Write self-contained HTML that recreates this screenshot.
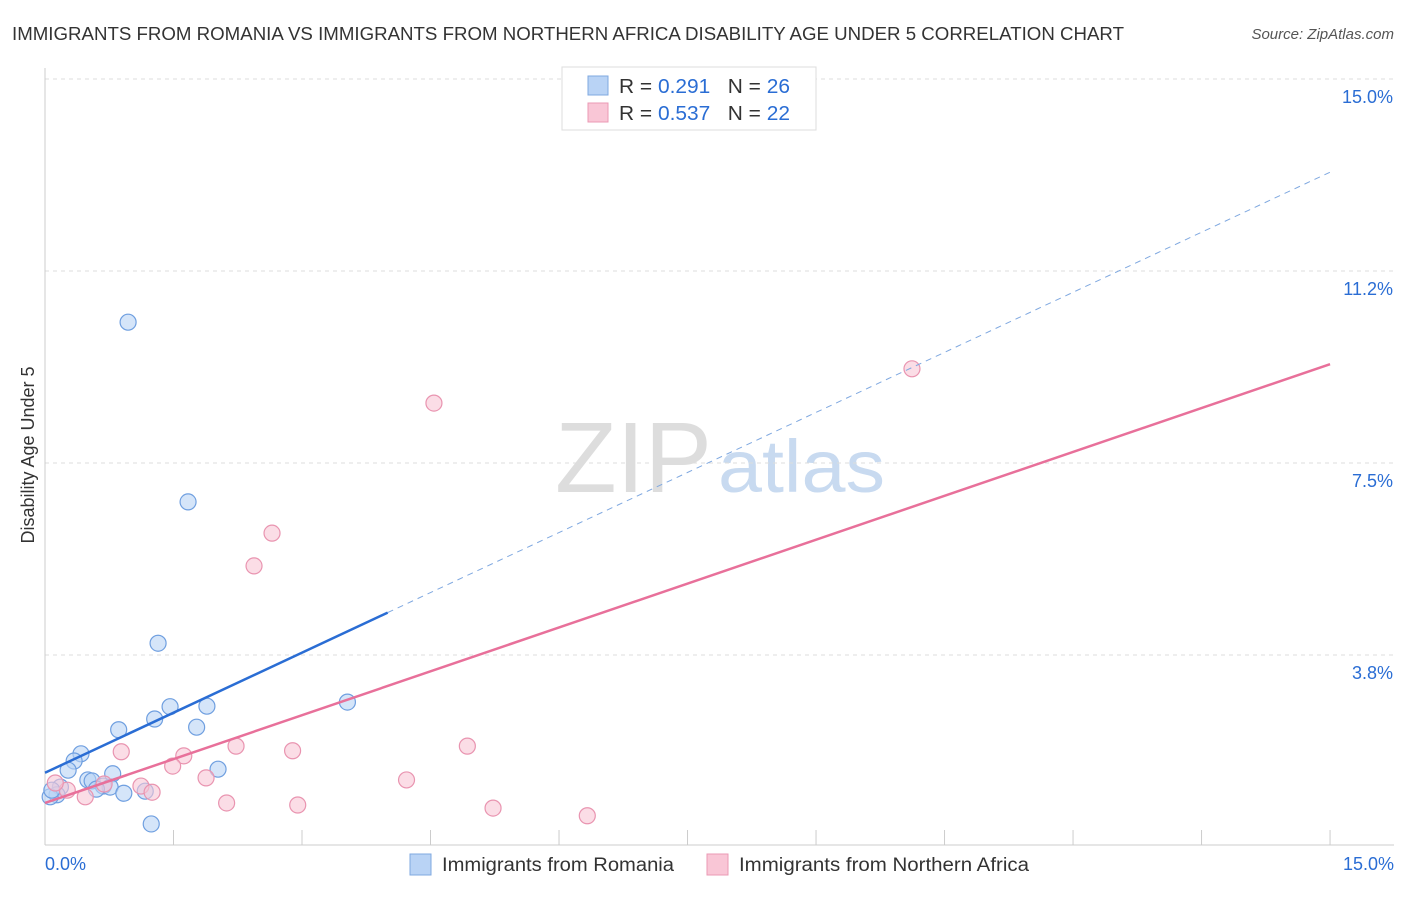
<!DOCTYPE html>
<html><head><meta charset="utf-8"><style>
body{margin:0;background:#fff;font-family:"Liberation Sans",sans-serif;}
svg text{font-family:"Liberation Sans",sans-serif;}
</style></head><body>
<svg width="1406" height="892" id="chart">
<text x="12" y="40" font-size="18" fill="#333" textLength="1112" lengthAdjust="spacingAndGlyphs">IMMIGRANTS FROM ROMANIA VS IMMIGRANTS FROM NORTHERN AFRICA DISABILITY AGE UNDER 5 CORRELATION CHART</text>
<text x="1394" y="39" font-size="15" fill="#555" font-style="italic" text-anchor="end">Source: ZipAtlas.com</text>
<text x="555" y="492" font-size="100" fill="#ddd" font-family="Liberation Serif" textLength="157" lengthAdjust="spacingAndGlyphs">ZIP</text>
<text x="718" y="492" font-size="74" fill="#c8daf0" textLength="167" lengthAdjust="spacingAndGlyphs">atlas</text>
<text transform="translate(34,455) rotate(-90)" font-size="18" fill="#333" text-anchor="middle">Disability Age Under 5</text>
<g id="grid"></g><g id="marks"></g>
<g>
<rect x="562" y="67" width="254" height="63" fill="#fff" stroke="#ddd"/>
<rect x="588" y="76" width="20" height="19" fill="#b9d3f5" stroke="#7fa8e0"/>
<rect x="588" y="103" width="20" height="19" fill="#f9c6d6" stroke="#eb9ab4"/>
<text x="619" y="93" font-size="20" fill="#333" textLength="171" lengthAdjust="spacingAndGlyphs">R = <tspan fill="#2a6dd4">0.291</tspan>&#160;&#160;&#160;N = <tspan fill="#2a6dd4">26</tspan></text>
<text x="619" y="120" font-size="20" fill="#333" textLength="171" lengthAdjust="spacingAndGlyphs">R = <tspan fill="#2a6dd4">0.537</tspan>&#160;&#160;&#160;N = <tspan fill="#2a6dd4">22</tspan></text>
</g>
<g>
<rect x="410" y="854" width="21" height="21" fill="#b9d3f5" stroke="#7fa8e0"/>
<text x="442" y="871" font-size="19" fill="#333" textLength="232" lengthAdjust="spacingAndGlyphs">Immigrants from Romania</text>
<rect x="707" y="854" width="21" height="21" fill="#f9c6d6" stroke="#eb9ab4"/>
<text x="739" y="871" font-size="19" fill="#333" textLength="290" lengthAdjust="spacingAndGlyphs">Immigrants from Northern Africa</text>
</g>
</svg>
<script>
const yTicks=[3.8,7.5,11.2,15.0];
const xTickLabels=["0.0%","15.0%"];
const blueX=[0.97,1.67,1.32,1.46,1.89,1.28,1.77,0.86,3.53,0.42,0.34,0.27,2.02,0.79,0.5,0.55,0.68,0.76,0.6,0.92,1.17,0.18,0.14,0.06,1.24,0.08];
const blueY=[10.25,6.74,3.98,2.74,2.75,2.5,2.34,2.29,2.83,1.82,1.68,1.5,1.52,1.43,1.31,1.29,1.19,1.17,1.13,1.05,1.09,1.17,1.02,0.98,0.45,1.11];
const pinkX=[10.12,4.54,2.65,2.44,4.93,2.23,2.89,0.89,1.62,1.49,1.88,4.22,1.12,1.25,0.69,0.47,0.26,2.12,2.95,5.23,6.33,0.12];
const pinkY=[9.34,8.67,6.13,5.49,1.97,1.97,1.88,1.86,1.78,1.58,1.35,1.31,1.19,1.07,1.23,0.98,1.11,0.86,0.82,0.76,0.61,1.25];
const blueTrend=[1.45,13.18]; const blueSolidEnd=4.0;
const pinkTrend=[0.86,9.43];
const X=v=>45+v*85.67, Y=v=>847-v*51.2;
const NS="http://www.w3.org/2000/svg";
function mk(p,tag,at){const e=document.createElementNS(NS,tag);for(const k in at)e.setAttribute(k,at[k]);p.appendChild(e);return e;}
const g=document.getElementById('grid'), m=document.getElementById('marks');
yTicks.forEach(t=>{const yy=Y(t===3.8?3.75:t===11.2?11.25:t);
const l=mk(g,'line',{x1:45,x2:1394,y1:yy,y2:yy,stroke:'#ddd','stroke-dasharray':'4,4'});


const tx=mk(g,'text',{x:1393,y:yy+24,'font-size':18,fill:'#2a6dd4','text-anchor':'end'});tx.textContent=t.toFixed(1)+'%';

});
const ax=mk(g,'line',{x1:45,x2:45,y1:68,y2:845,stroke:'#ccc'});


const bx=mk(g,'line',{x1:45,x2:1394,y1:845,y2:845,stroke:'#ccc'});


for(let i=0;i<=10;i++){const t=mk(g,'line',{x1:X(i*1.5),x2:X(i*1.5),y1:830,y2:845,stroke:'#ccc'});

}
[[0,'start',45],[1,'end',1394]].forEach(([i,a,x])=>{const t=mk(g,'text',{x:x,y:870,'font-size':18,fill:'#2a6dd4','text-anchor':a});t.textContent=xTickLabels[i];

});
function pts(xs,ys,fill,stroke,name){xs.forEach((x,i)=>{const c=mk(m,'circle',{cx:X(x),cy:Y(ys[i]),r:8,fill:fill,stroke:stroke,'stroke-width':1.2,'fill-opacity':0.6});

});}
pts(blueX,blueY,'#b9d3f5','#6f9fe0','romania-point');
pts(pinkX,pinkY,'#f9c6d6','#e994b0','northern-africa-point');
const bf=v=>blueTrend[0]+(blueTrend[1]-blueTrend[0])*v/15;
const l1=mk(m,'line',{x1:X(0),y1:Y(bf(0)),x2:X(blueSolidEnd),y2:Y(bf(blueSolidEnd)),stroke:'#2a6dd4','stroke-width':2.5});


const l2=mk(m,'line',{x1:X(blueSolidEnd),y1:Y(bf(blueSolidEnd)),x2:X(15),y2:Y(bf(15)),stroke:'#7fa8e0','stroke-width':1,'stroke-dasharray':'6,5'});


const l3=mk(m,'line',{x1:X(0),y1:Y(pinkTrend[0]),x2:X(15),y2:Y(pinkTrend[1]),stroke:'#e8709a','stroke-width':2.5});


</script>
</body></html>
